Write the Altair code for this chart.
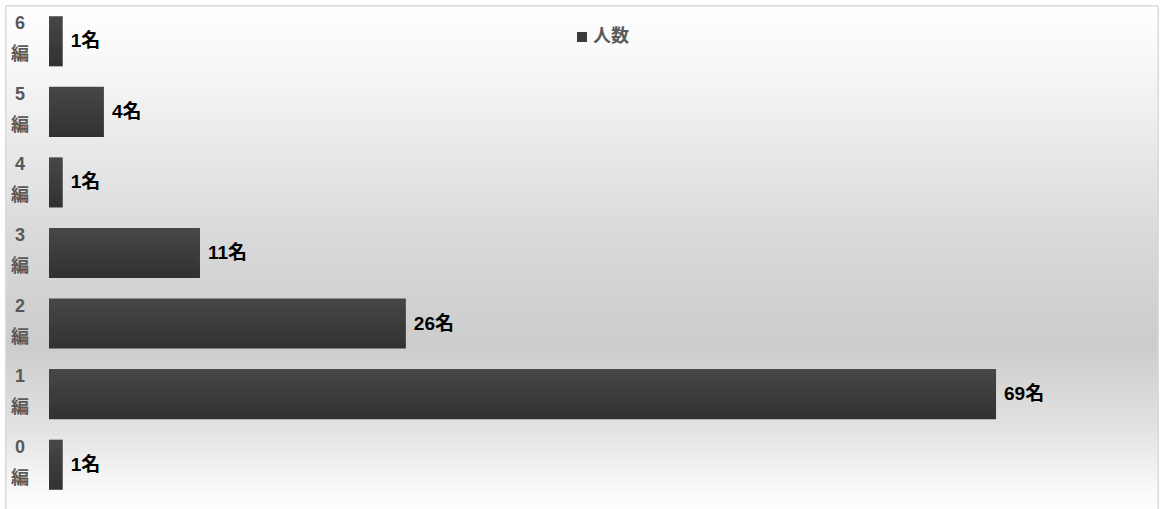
import altair as alt
import pandas as pd

categories = ["6", "5", "4", "3", "2", "1", "0"]
counts = [1, 4, 1, 11, 26, 69, 1]
labels = ["1名", "4名", "1名", "11名", "26名", "69名", "1名"]
axis_labels = [c + "\n編" for c in categories]
series_name = "人数"

df = pd.DataFrame({
    "cat": categories,
    "count": counts,
    "label": labels,
    "axis": axis_labels,
})
legend_df = pd.DataFrame({"series": [series_name]})

W, H = 1109, 494
FONT = "Liberation Sans, Noto Sans CJK JP"

bg_grad = alt.Gradient(
    gradient="linear", x1=0, y1=0, x2=0, y2=1,
    stops=[
        alt.GradientStop(offset=0.0, color="#ffffff"),
        alt.GradientStop(offset=0.12, color="#f7f7f7"),
        alt.GradientStop(offset=0.45, color="#d9d9d9"),
        alt.GradientStop(offset=0.66, color="#cccccc"),
        alt.GradientStop(offset=0.82, color="#e2e2e2"),
        alt.GradientStop(offset=0.95, color="#fbfbfb"),
        alt.GradientStop(offset=1.0, color="#ffffff"),
    ],
)
bar_grad = alt.Gradient(
    gradient="linear", x1=0, y1=0, x2=0, y2=1,
    stops=[
        alt.GradientStop(offset=0.0, color="#474747"),
        alt.GradientStop(offset=1.0, color="#313131"),
    ],
)

base = alt.Chart(df)

background = base.mark_rect(fill=bg_grad, stroke="#d9d9d9", strokeWidth=1, clip=False).encode(
    x=alt.value(-43), x2=alt.value(W), y=alt.value(0), y2=alt.value(H + 20)
)

y_enc = alt.Y("cat:N", sort=categories, axis=None,
              scale=alt.Scale(paddingInner=0.29, paddingOuter=0.145))
x_enc = alt.X("count:Q", axis=None, scale=alt.Scale(domain=[0, 80.8]))

bars = base.mark_bar(fill=bar_grad).encode(x=x_enc, y=y_enc)

legend_sym = alt.Chart(legend_df).mark_square(size=100, color="#3c3c3c", opacity=1).encode(
    x=alt.value(533), y=alt.value(31)
)
legend_txt = alt.Chart(legend_df).mark_text(
    align="left", baseline="middle", font=FONT, fontSize=18, fontWeight="bold",
    color="#595959").encode(x=alt.value(544), y=alt.value(31), text="series:N")

values = base.mark_text(align="left", baseline="middle", dx=8, font=FONT,
                        fontSize=19, fontWeight="bold", color="#000000").encode(
    x=x_enc, y=y_enc, text="label:N"
)

axis_text = base.mark_text(align="center", baseline="middle", font=FONT,
                           fontSize=18, fontWeight="bold", color="#595959",
                           lineBreak="\n", lineHeight=31, dy=-17).encode(
    x=alt.value(-29), y=y_enc, text="axis:N"
)

chart = alt.layer(background, bars, values, axis_text, legend_sym, legend_txt).properties(
    width=W, height=H,
    padding={"left": 49, "top": 6, "right": 7, "bottom": 9},
    autosize=alt.AutoSizeParams(type="none"),
).configure_view(stroke=None).configure(background="#ffffff")

chart.save("out.html", embed_options={"renderer": "svg", "actions": False})
